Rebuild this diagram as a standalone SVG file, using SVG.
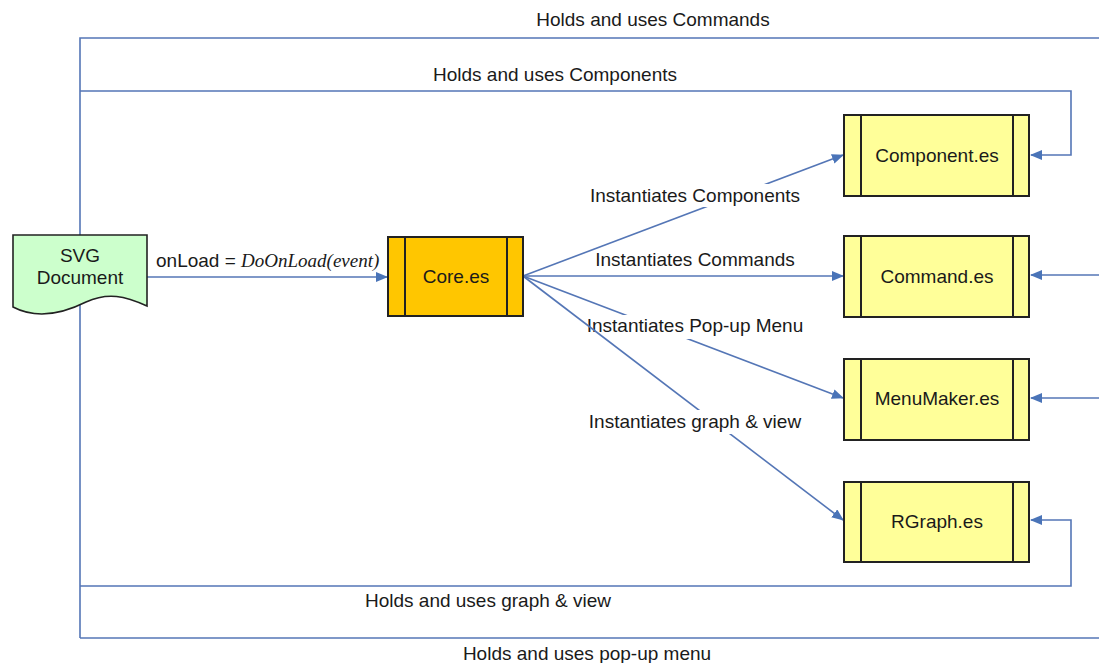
<svg xmlns="http://www.w3.org/2000/svg" width="1099" height="663" viewBox="0 0 1099 663">
  <style>
    .lbl { font-family: "Liberation Sans", Arial, sans-serif; font-size: 19px; fill: #1a1a1a; }
    .mid { text-anchor: middle; }
    .wire { fill: none; stroke: #5476b6; stroke-width: 1.6; }
    .arr { marker-end: url(#head); }
    .module { fill: #ffff99; stroke: #222; stroke-width: 2; }
    .core { fill: #ffc600; stroke: #222; stroke-width: 2; }
    .bar { stroke: #222; stroke-width: 2; }
    .mask { fill: #fff; }
  </style>
  <defs>
    <marker id="head" viewBox="0 0 12 10" refX="11" refY="5" markerWidth="12" markerHeight="10" markerUnits="userSpaceOnUse" orient="auto">
      <path d="M0,0 L12,5 L0,10 Z" fill="#4a74b8"/>
    </marker>
  </defs>
  <rect width="1099" height="663" fill="#fff"/>

  <g id="connectors">
    <!-- ownership loops -->
    <path class="wire" d="M80,638 V38 H1099"/>
    <path class="wire arr" d="M1099,275 H1031"/>
    <path class="wire" d="M80,638 H1099"/>
    <path class="wire arr" d="M1099,398 H1031"/>
    <path class="wire arr" d="M80,91 H1071 V155 H1031"/>
    <path class="wire arr" d="M80,586 H1071 V520 H1031"/>
    <text class="lbl mid" x="653" y="26">Holds and uses Commands</text>
    <text class="lbl mid" x="555" y="81">Holds and uses Components</text>
    <text class="lbl mid" x="488" y="607">Holds and uses graph &amp; view</text>
    <text class="lbl mid" x="587" y="660">Holds and uses pop-up menu</text>

    <!-- load hook -->
    <path class="wire arr" d="M147,277 H387"/>
    <text class="lbl" x="156" y="267">onLoad = <tspan font-family="'Liberation Serif', 'Times New Roman', serif" font-style="italic">DoOnLoad(event)</tspan></text>

    <!-- instantiation fan-out -->
    <path class="wire arr" d="M523,276 L843,155"/>
    <rect class="mask" x="588" y="184" width="214" height="23"/>
    <text class="lbl mid" x="695" y="202">Instantiates Components</text>

    <path class="wire arr" d="M523,276 H843"/>
    <text class="lbl mid" x="695" y="266">Instantiates Commands</text>

    <path class="wire arr" d="M523,276 L843,398"/>
    <rect class="mask" x="588" y="315" width="214" height="24"/>
    <text class="lbl mid" x="695" y="332">Instantiates Pop-up Menu</text>

    <path class="wire arr" d="M523,276 L843,520"/>
    <rect class="mask" x="588" y="410" width="214" height="24"/>
    <text class="lbl mid" x="695" y="428">Instantiates graph &amp; view</text>
  </g>

  <g id="svg-document">
    <path d="M13,235 H147 V306 C125,296 108,292 86,302 C62,314 36,319 13,307 Z" fill="#ccffcc" stroke="#222" stroke-width="1.6"/>
    <text class="lbl mid" x="80" y="262">SVG</text>
    <text class="lbl mid" x="80" y="284">Document</text>
  </g>

  <g id="core">
    <rect class="core" x="388" y="237" width="135" height="79"/>
    <line class="bar" x1="405" y1="237" x2="405" y2="316"/>
    <line class="bar" x1="507" y1="237" x2="507" y2="316"/>
    <text class="lbl mid" x="456" y="283">Core.es</text>
  </g>

  <g id="component">
    <rect class="module" x="844" y="115" width="185" height="81"/>
    <line class="bar" x1="861" y1="115" x2="861" y2="196"/>
    <line class="bar" x1="1013" y1="115" x2="1013" y2="196"/>
    <text class="lbl mid" x="937" y="162">Component.es</text>
  </g>

  <g id="command">
    <rect class="module" x="844" y="236" width="185" height="81"/>
    <line class="bar" x1="861" y1="236" x2="861" y2="317"/>
    <line class="bar" x1="1013" y1="236" x2="1013" y2="317"/>
    <text class="lbl mid" x="937" y="283">Command.es</text>
  </g>

  <g id="menumaker">
    <rect class="module" x="844" y="359" width="185" height="81"/>
    <line class="bar" x1="861" y1="359" x2="861" y2="440"/>
    <line class="bar" x1="1013" y1="359" x2="1013" y2="440"/>
    <text class="lbl mid" x="937" y="405">MenuMaker.es</text>
  </g>

  <g id="rgraph">
    <rect class="module" x="844" y="482" width="185" height="80"/>
    <line class="bar" x1="861" y1="482" x2="861" y2="562"/>
    <line class="bar" x1="1013" y1="482" x2="1013" y2="562"/>
    <text class="lbl mid" x="937" y="528">RGraph.es</text>
  </g>
</svg>
